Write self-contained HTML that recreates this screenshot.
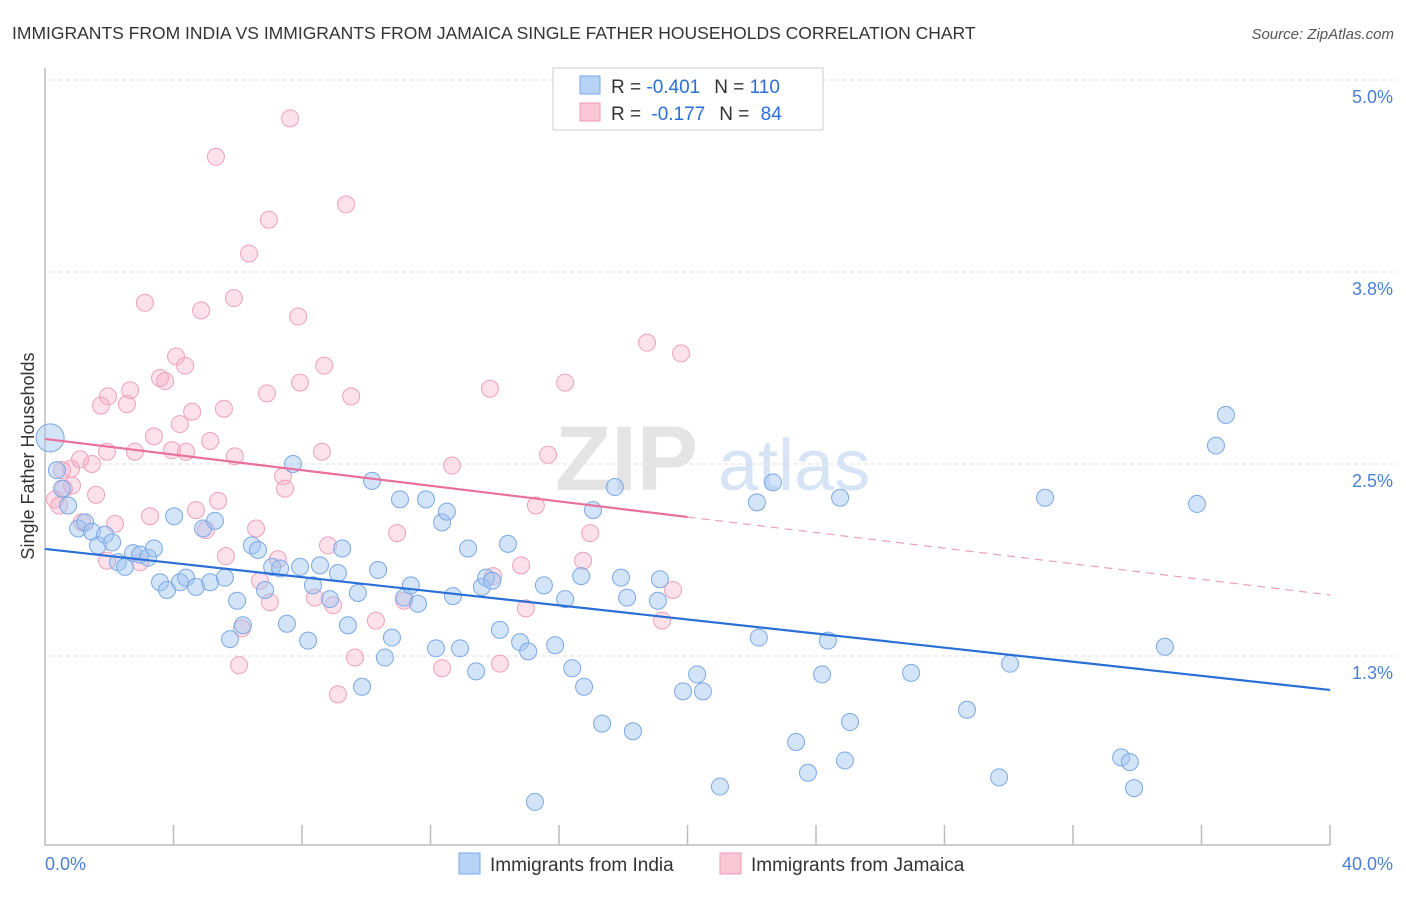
<!DOCTYPE html>
<html><head><meta charset="utf-8"><style>
body{margin:0;background:#fff;font-family:"Liberation Sans",sans-serif;}
svg text{font-family:"Liberation Sans",sans-serif;}
</style></head><body>
<svg id="chart" width="1406" height="892" xmlns="http://www.w3.org/2000/svg">
<text x="12" y="39" font-size="17.5" fill="#333">IMMIGRANTS FROM INDIA VS IMMIGRANTS FROM JAMAICA SINGLE FATHER HOUSEHOLDS CORRELATION CHART</text>
<text x="1394" y="39" font-size="15" fill="#555" font-style="italic" text-anchor="end">Source: ZipAtlas.com</text>
<g id="grid"></g>
<g>
<text x="555" y="490" font-size="92" fill="#e4e4e4" font-family="Liberation Serif" font-weight="bold">ZIP</text>
<text x="718" y="490" font-size="72" fill="#d6e4f5">atlas</text>
</g>
<g id="axes"></g>
<g id="pinkPts"></g>
<g id="bluePts"></g>
<g id="lines"></g>
<text transform="translate(34,456) rotate(-90)" font-size="18" fill="#333" text-anchor="middle">Single Father Households</text>
<g>
<rect x="553" y="68" width="270" height="62" fill="#fff" stroke="#ccc"/>
<rect x="580" y="76" width="20" height="18" fill="#b8d2f5" stroke="#7aa8e6"/>
<rect x="580" y="103" width="20" height="18" fill="#f9c6d6" stroke="#f09ab5"/>
<text x="611" y="93" font-size="19" fill="#333">R = <tspan fill="#2a6fd6">-0.401</tspan><tspan dx="14">N = </tspan><tspan fill="#2a6fd6">110</tspan></text>
<text x="611" y="120" font-size="19" fill="#333">R = <tspan dx="5" fill="#2a6fd6">-0.177</tspan><tspan dx="14">N = </tspan><tspan dx="6" fill="#2a6fd6">84</tspan></text>
</g>
<g>
<rect x="459" y="853" width="21" height="21" fill="#b8d2f5" stroke="#7aa8e6"/>
<text x="490" y="871" font-size="19" fill="#333">Immigrants from India</text>
<rect x="720" y="853" width="21" height="21" fill="#f9c6d6" stroke="#f09ab5"/>
<text x="751" y="871" font-size="19" fill="#333">Immigrants from Jamaica</text>
</g>
</svg>
<script>
const yTicks=[5.0,3.75,2.5,1.25];
const yTickLabels=["5.0%","3.8%","2.5%","1.3%"];
const xTickCount=10;
const xEndLabels=["0.0%","40.0%"];
const indiaX=[0.16,0.37,0.53,0.72,1.03,1.25,1.46,1.65,1.87,2.09,2.27,2.49,2.74,2.96,3.21,3.39,3.58,3.80,4.02,4.20,4.39,4.70,4.92,5.14,5.29,5.60,5.98,6.16,5.76,6.44,6.63,6.85,7.07,7.32,7.53,7.72,7.94,8.19,8.34,8.56,8.87,9.12,9.25,9.43,9.74,9.87,10.18,10.37,10.58,10.80,11.05,11.18,11.39,11.61,11.86,12.17,12.36,12.51,12.70,12.92,13.17,13.42,13.60,13.73,13.92,14.16,14.41,14.79,15.04,15.25,15.53,15.88,16.19,16.41,16.69,16.78,17.06,17.34,17.74,17.93,18.12,18.30,19.08,19.14,19.86,20.30,20.48,21.01,22.16,22.22,22.66,23.38,23.75,24.19,24.37,24.75,24.90,25.06,26.96,28.70,29.70,30.04,31.13,33.50,33.77,33.90,34.86,35.86,36.45,36.76];
const indiaY=[2.67,2.46,2.34,2.23,2.08,2.12,2.06,1.97,2.04,1.99,1.86,1.83,1.92,1.91,1.89,1.95,1.73,1.68,2.16,1.73,1.76,1.70,2.08,1.73,2.13,1.76,1.61,1.45,1.36,1.97,1.94,1.68,1.83,1.82,1.46,2.50,1.83,1.35,1.71,1.84,1.62,1.79,1.95,1.45,1.66,1.05,2.39,1.81,1.24,1.37,2.27,1.63,1.71,1.59,2.27,1.30,2.12,2.19,1.64,1.30,1.95,1.15,1.70,1.76,1.74,1.42,1.98,1.34,1.28,0.30,1.71,1.32,1.62,1.17,1.77,1.05,2.20,0.81,2.35,1.76,1.63,0.76,1.61,1.75,1.02,1.13,1.02,0.40,2.25,1.37,2.38,0.69,0.49,1.13,1.35,2.28,0.57,0.82,1.14,0.90,0.46,1.20,2.28,0.59,0.56,0.39,1.31,2.24,2.62,2.82];
const jamaicaX=[7.63,5.32,9.37,6.97,6.35,3.11,4.86,5.88,7.88,4.08,4.36,3.58,3.74,8.69,7.94,2.65,1.96,1.74,2.55,6.91,9.53,13.85,16.19,18.74,19.80,4.58,4.20,5.57,3.39,5.14,1.93,2.80,3.95,4.39,5.91,8.62,15.66,1.09,1.46,0.81,0.53,0.59,0.84,1.59,0.31,0.44,3.27,1.15,2.18,4.70,5.39,5.01,6.57,7.41,7.47,12.67,15.28,10.96,8.81,5.63,1.93,2.96,6.69,7.25,8.40,7.00,8.97,11.18,13.95,14.82,16.75,16.97,19.55,19.21,14.97,10.30,6.13,6.04,9.65,12.36,14.16,9.12];
const jamaicaY=[4.75,4.50,4.19,4.09,3.87,3.55,3.50,3.58,3.46,3.20,3.14,3.06,3.04,3.14,3.03,2.98,2.94,2.88,2.89,2.96,2.94,2.99,3.03,3.29,3.22,2.84,2.76,2.86,2.68,2.65,2.58,2.58,2.59,2.58,2.55,2.58,2.56,2.53,2.50,2.47,2.46,2.34,2.36,2.30,2.27,2.23,2.16,2.12,2.11,2.20,2.26,2.07,2.08,2.42,2.34,2.49,2.23,2.05,1.97,1.90,1.87,1.86,1.74,1.88,1.63,1.60,1.58,1.61,1.77,1.84,1.87,2.05,1.68,1.48,1.56,1.48,1.43,1.19,1.24,1.17,1.20,1.00];
const indiaTrend=[1.947,1.029];
const jamaicaTrend=[2.663,2.155,1.647];
const NS="http://www.w3.org/2000/svg";
const X0=45,X1=1330,Y0=848,PPY=153.6;
function xs(v){return X0+(v/40)*(X1-X0);}
function ys(v){return Y0-v*PPY;}
function mk(tag,attrs,parent){const e=document.createElementNS(NS,tag);for(const k in attrs)e.setAttribute(k,attrs[k]);parent.appendChild(e);return e;}
const grid=document.getElementById('grid'),axes=document.getElementById('axes');
yTicks.forEach((t,i)=>{
 const l=mk('line',{x1:X0,x2:1395,y1:ys(t),y2:ys(t),stroke:'#ddd','stroke-dasharray':'4,3'},grid);
 
 
 const tx=mk('text',{x:1393,y:ys(t)+23,'font-size':18,fill:'#4a7fd4','text-anchor':'end'},grid);
 tx.textContent=yTickLabels[i];
 
 
});
const ax=mk('path',{d:`M${X0},68 V845 H${X1}`,fill:'none',stroke:'#bbb','stroke-width':1.5},axes);


for(let i=1;i<=xTickCount;i++){
 const x=xs(i*40/xTickCount);
 const t=mk('line',{x1:x,x2:x,y1:825,y2:845,stroke:'#bbb','stroke-width':1.5},axes);
 
 
}
const xl0=mk('text',{x:45,y:870,'font-size':18,fill:'#4a7fd4'},axes);xl0.textContent=xEndLabels[0];


const xl1=mk('text',{x:1393,y:870,'font-size':18,fill:'#4a7fd4','text-anchor':'end'},axes);xl1.textContent=xEndLabels[1];


const pp=document.getElementById('pinkPts');
jamaicaX.forEach((v,i)=>{
 const c=mk('circle',{cx:xs(v),cy:ys(jamaicaY[i]),r:8.5,fill:'rgba(245,170,195,0.35)',stroke:'#f0a0bb','stroke-width':1},pp);
 
 
});
const bp=document.getElementById('bluePts');
indiaX.forEach((v,i)=>{
 const c=mk('circle',{cx:xs(v),cy:ys(indiaY[i]),r:i===0?14:8.5,fill:'rgba(160,196,240,0.45)',stroke:'#7aa8e6','stroke-width':1},bp);
 
 
});
const lg=document.getElementById('lines');
const bl=mk('line',{x1:xs(0),y1:ys(indiaTrend[0]),x2:xs(40),y2:ys(indiaTrend[1]),stroke:'#2a6fd6','stroke-width':2.2},lg);


const pl=mk('line',{x1:xs(0),y1:ys(jamaicaTrend[0]),x2:xs(20),y2:ys(jamaicaTrend[1]),stroke:'#e8709a','stroke-width':2.2},lg);


const pd=mk('line',{x1:xs(20),y1:ys(jamaicaTrend[1]),x2:xs(40),y2:ys(jamaicaTrend[2]),stroke:'#eba0b8','stroke-width':1.2,'stroke-dasharray':'8,6'},lg);


</script>
</body></html>
